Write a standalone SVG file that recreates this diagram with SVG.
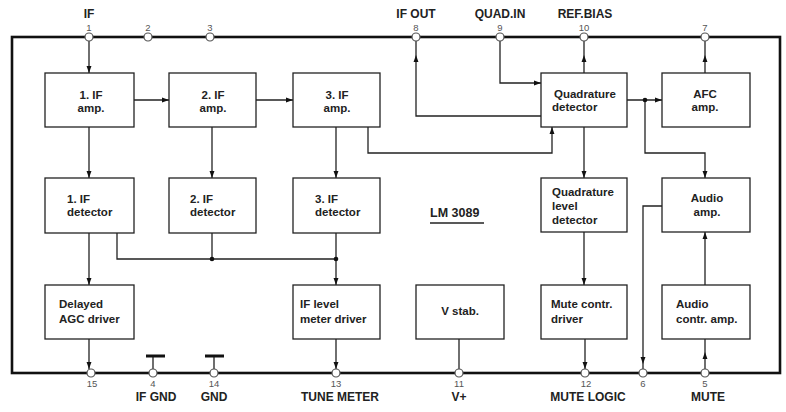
<svg xmlns="http://www.w3.org/2000/svg" width="786" height="412" viewBox="0 0 786 412">
<defs>
<marker id="ah" markerWidth="7" markerHeight="10" refX="10" refY="3.5" orient="auto" markerUnits="userSpaceOnUse" viewBox="0 0 10 7">
<path d="M0,0 L10,3.5 L0,7 Z" fill="#111"/>
</marker>
<style>
.box{fill:#fff;stroke:#222;stroke-width:1.3}
.ln{fill:none;stroke:#222;stroke-width:1.3}
.arr{fill:none;stroke:#222;stroke-width:1.3;marker-end:url(#ah)}
.pin{fill:#fff;stroke:#555;stroke-width:1.2}
.t{font-family:"Liberation Sans",Arial,sans-serif;font-weight:bold;font-size:11.5px;fill:#222}
.c{text-anchor:middle}
.pl{font-family:"Liberation Sans",Arial,sans-serif;font-weight:bold;font-size:12px;fill:#222;text-anchor:middle}
.pn{font-family:"Liberation Sans",Arial,sans-serif;font-size:9.5px;fill:#555;text-anchor:middle}
.dot{fill:#111}
</style>
</defs>
<rect width="786" height="412" fill="#fff"/>
<rect x="12" y="37" width="768" height="336" fill="none" stroke="#111" stroke-width="2.6"/>

<g id="connectors">
<path class="arr" d="M89,41 V73"/>
<path class="arr" d="M134,100 H169"/>
<path class="arr" d="M256,100 H293"/>
<path class="arr" d="M89,127 V178"/>
<path class="arr" d="M212,127 V178"/>
<path class="arr" d="M336,127 V178"/>
<path class="arr" d="M368,127 V153 H552 V127"/>
<path class="arr" d="M541,116 H416 V55"/>
<path class="ln" d="M416,55 V41"/>
<path class="arr" d="M500,41 V83 H541"/>
<path class="arr" d="M584,73 V55"/>
<path class="ln" d="M584,55 V41"/>
<path class="arr" d="M627,100 H662"/>
<path class="arr" d="M645,100 V153 H705 V178"/>
<path class="arr" d="M705,73 V55"/>
<path class="ln" d="M705,55 V41"/>
<path class="arr" d="M584,127 V178"/>
<path class="arr" d="M89,233 V285"/>
<path class="ln" d="M117,233 V259 H336"/>
<path class="ln" d="M212,233 V259"/>
<path class="arr" d="M336,233 V285"/>
<path class="arr" d="M584,232 V285"/>
<path class="arr" d="M662,206 H643 V364"/>
<path class="ln" d="M643,364 V369"/>
<path class="arr" d="M705,285 V232"/>
<path class="arr" d="M705,369 V352"/>
<path class="ln" d="M705,352 V339"/>
<path class="arr" d="M89,339 V369"/>
<path class="arr" d="M336,339 V369"/>
<path class="arr" d="M585,339 V369"/>
<path class="ln" d="M459,339 V369"/>
<path class="ln" d="M153,369 V356 M214,369 V356"/>
<path d="M146,356 H165 M205,356 H224" stroke="#111" stroke-width="3.2" fill="none"/>
<circle class="dot" cx="645" cy="100" r="2.3"/>
<circle class="dot" cx="212" cy="259" r="2.3"/>
<circle class="dot" cx="336" cy="259" r="2.3"/>
</g>

<g id="pins">
<circle class="pin" cx="89" cy="37" r="4"/>
<circle class="pin" cx="148" cy="37" r="4"/>
<circle class="pin" cx="210" cy="37" r="4"/>
<circle class="pin" cx="416" cy="37" r="4"/>
<circle class="pin" cx="500" cy="37" r="4"/>
<circle class="pin" cx="584" cy="37" r="4"/>
<circle class="pin" cx="705" cy="37" r="4"/>
<circle class="pin" cx="91" cy="373" r="4"/>
<circle class="pin" cx="153" cy="373" r="4"/>
<circle class="pin" cx="214" cy="373" r="4"/>
<circle class="pin" cx="336" cy="373" r="4"/>
<circle class="pin" cx="459" cy="373" r="4"/>
<circle class="pin" cx="585" cy="373" r="4"/>
<circle class="pin" cx="643" cy="373" r="4"/>
<circle class="pin" cx="705" cy="373" r="4"/>
<text class="pl" x="89" y="18">IF</text>
<text class="pn" x="89" y="31">1</text>
<text class="pn" x="148" y="31">2</text>
<text class="pn" x="210" y="31">3</text>
<text class="pl" x="416" y="18">IF OUT</text>
<text class="pn" x="416" y="31">8</text>
<text class="pl" x="500" y="18">QUAD.IN</text>
<text class="pn" x="500" y="31">9</text>
<text class="pl" x="585" y="18">REF.BIAS</text>
<text class="pn" x="584" y="31">10</text>
<text class="pn" x="705" y="31">7</text>
<text class="pn" x="92" y="387">15</text>
<text class="pn" x="153" y="387">4</text>
<text class="pn" x="214" y="387">14</text>
<text class="pn" x="336" y="387">13</text>
<text class="pn" x="459" y="387">11</text>
<text class="pn" x="586" y="387">12</text>
<text class="pn" x="643" y="387">6</text>
<text class="pn" x="705" y="387">5</text>
<text class="pl" x="156" y="401">IF GND</text>
<text class="pl" x="214" y="401">GND</text>
<text class="pl" x="340" y="401">TUNE METER</text>
<text class="pl" x="459" y="401">V+</text>
<text class="pl" x="588" y="401">MUTE LOGIC</text>
<text class="pl" x="708" y="401">MUTE</text>
</g>

<g id="if-amp-1"><rect class="box" x="45" y="73" width="89" height="54"/><text class="t c" x="91" y="99">1. IF</text><text class="t c" x="91" y="112">amp.</text></g>
<g id="if-amp-2"><rect class="box" x="169" y="73" width="87" height="54"/><text class="t c" x="213" y="99">2. IF</text><text class="t c" x="213" y="112">amp.</text></g>
<g id="if-amp-3"><rect class="box" x="293" y="73" width="87" height="54"/><text class="t c" x="337" y="99">3. IF</text><text class="t c" x="337" y="112">amp.</text></g>
<g id="quad-det"><rect class="box" x="541" y="73" width="86" height="54"/><text class="t c" x="585" y="98">Quadrature</text><text class="t" x="552" y="111">detector</text></g>
<g id="afc-amp"><rect class="box" x="662" y="73" width="88" height="54"/><text class="t c" x="705" y="98">AFC</text><text class="t c" x="705" y="111">amp.</text></g>

<g id="if-det-1"><rect class="box" x="45" y="178" width="89" height="55"/><text class="t" x="67" y="203">1. IF</text><text class="t" x="67" y="216">detector</text></g>
<g id="if-det-2"><rect class="box" x="169" y="178" width="87" height="55"/><text class="t" x="190" y="203">2. IF</text><text class="t" x="190" y="216">detector</text></g>
<g id="if-det-3"><rect class="box" x="293" y="178" width="87" height="55"/><text class="t" x="315" y="203">3. IF</text><text class="t" x="315" y="216">detector</text></g>
<g id="quad-level-det"><rect class="box" x="541" y="178" width="86" height="54"/><text class="t" x="552" y="196">Quadrature</text><text class="t" x="552" y="210">level</text><text class="t" x="552" y="224">detector</text></g>
<g id="audio-amp"><rect class="box" x="662" y="178" width="88" height="54"/><text class="t c" x="707" y="202">Audio</text><text class="t c" x="707" y="216">amp.</text></g>

<g id="lm3089"><text class="t" x="430" y="217" style="font-size:12.5px">LM 3089</text><line x1="430" y1="223" x2="484" y2="223" stroke="#222" stroke-width="1.3"/></g>

<g id="agc-driver"><rect class="box" x="45" y="285" width="89" height="54"/><text class="t" x="59" y="308">Delayed</text><text class="t" x="59" y="323">AGC driver</text></g>
<g id="meter-driver"><rect class="box" x="293" y="285" width="87" height="54"/><text class="t" x="300" y="308">IF level</text><text class="t" x="300" y="323">meter driver</text></g>
<g id="v-stab"><rect class="box" x="416" y="285" width="88" height="54"/><text class="t c" x="460" y="315">V stab.</text></g>
<g id="mute-driver"><rect class="box" x="541" y="285" width="86" height="54"/><text class="t" x="551" y="308">Mute contr.</text><text class="t" x="551" y="323">driver</text></g>
<g id="audio-contr"><rect class="box" x="662" y="285" width="88" height="54"/><text class="t" x="676" y="308">Audio</text><text class="t" x="676" y="323">contr. amp.</text></g>
</svg>
